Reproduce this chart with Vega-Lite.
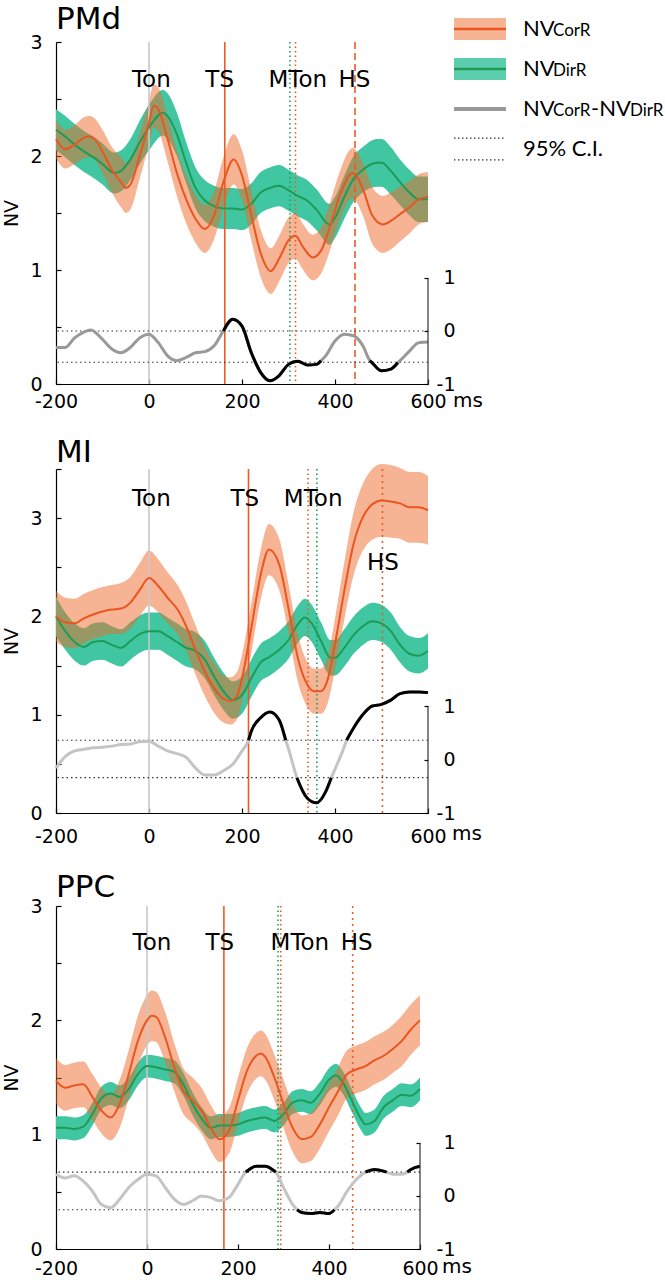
{
"$schema":"https://vega.github.io/schema/vega-lite/v6.json",
"background":"white",
"padding":{"left":2,"top":4,"right":0,"bottom":0},
"config":{"view":{"stroke":null},"font":"DejaVu Sans",
"axis":{"grid":false,"domainColor":"#000","tickColor":"#000","labelColor":"#000","titleColor":"#000","labelFontSize":19,"titleFontSize":19,"titleFontWeight":"normal","domainWidth":1.2,"tickWidth":1.2,"labelFont":"DejaVu Sans","titleFont":"DejaVu Sans"},
"text":{"font":"DejaVu Sans"},
"title":{"fontSize":31,"fontWeight":"normal","anchor":"start","frame":"group","color":"#000","font":"DejaVu Sans"}},
"datasets":{
"pmd_o":[{"t":-200,"m":2.15,"e":0.17},{"t":-180,"m":2.06,"e":0.17},{"t":-160,"m":2.1,"e":0.17},{"t":-140,"m":2.16,"e":0.18},{"t":-128,"m":2.17,"e":0.18},{"t":-120,"m":2.16,"e":0.18},{"t":-100,"m":2.04,"e":0.19},{"t":-80,"m":1.88,"e":0.2},{"t":-60,"m":1.77,"e":0.22},{"t":-50,"m":1.72,"e":0.22},{"t":-40,"m":1.75,"e":0.22},{"t":-20,"m":2.0,"e":0.2},{"t":0,"m":2.29,"e":0.19},{"t":10,"m":2.44,"e":0.19},{"t":20,"m":2.41,"e":0.19},{"t":40,"m":2.15,"e":0.2},{"t":60,"m":1.85,"e":0.2},{"t":80,"m":1.62,"e":0.21},{"t":100,"m":1.45,"e":0.21},{"t":120,"m":1.36,"e":0.21},{"t":140,"m":1.48,"e":0.21},{"t":160,"m":1.77,"e":0.22},{"t":182,"m":1.97,"e":0.22},{"t":200,"m":1.83,"e":0.22},{"t":220,"m":1.48,"e":0.22},{"t":240,"m":1.15,"e":0.21},{"t":262,"m":0.99,"e":0.2},{"t":280,"m":1.1,"e":0.2},{"t":300,"m":1.26,"e":0.2},{"t":315,"m":1.3,"e":0.2},{"t":330,"m":1.21,"e":0.2},{"t":352,"m":1.11,"e":0.2},{"t":370,"m":1.17,"e":0.2},{"t":390,"m":1.39,"e":0.21},{"t":410,"m":1.65,"e":0.21},{"t":438,"m":1.85,"e":0.22},{"t":460,"m":1.71,"e":0.23},{"t":480,"m":1.48,"e":0.25},{"t":503,"m":1.4,"e":0.25},{"t":520,"m":1.43,"e":0.25},{"t":540,"m":1.49,"e":0.24},{"t":560,"m":1.55,"e":0.23},{"t":580,"m":1.62,"e":0.22},{"t":600,"m":1.64,"e":0.22}],
"pmd_g":[{"t":-200,"m":2.23,"e":0.18},{"t":-180,"m":2.17,"e":0.18},{"t":-160,"m":2.1,"e":0.18},{"t":-140,"m":2.04,"e":0.18},{"t":-120,"m":1.99,"e":0.18},{"t":-100,"m":1.93,"e":0.18},{"t":-75,"m":1.85,"e":0.18},{"t":-60,"m":1.87,"e":0.18},{"t":-40,"m":1.97,"e":0.18},{"t":-20,"m":2.12,"e":0.19},{"t":0,"m":2.25,"e":0.2},{"t":30,"m":2.38,"e":0.2},{"t":40,"m":2.35,"e":0.2},{"t":60,"m":2.19,"e":0.19},{"t":80,"m":1.94,"e":0.18},{"t":100,"m":1.72,"e":0.18},{"t":120,"m":1.61,"e":0.18},{"t":140,"m":1.56,"e":0.18},{"t":160,"m":1.54,"e":0.18},{"t":180,"m":1.54,"e":0.18},{"t":200,"m":1.53,"e":0.18},{"t":220,"m":1.58,"e":0.18},{"t":240,"m":1.68,"e":0.18},{"t":260,"m":1.72,"e":0.18},{"t":280,"m":1.74,"e":0.18},{"t":300,"m":1.7,"e":0.18},{"t":320,"m":1.65,"e":0.18},{"t":340,"m":1.61,"e":0.18},{"t":360,"m":1.53,"e":0.18},{"t":388,"m":1.4,"e":0.18},{"t":400,"m":1.46,"e":0.18},{"t":420,"m":1.64,"e":0.19},{"t":440,"m":1.8,"e":0.2},{"t":460,"m":1.88,"e":0.2},{"t":490,"m":1.94,"e":0.21},{"t":500,"m":1.94,"e":0.21},{"t":520,"m":1.87,"e":0.21},{"t":540,"m":1.77,"e":0.2},{"t":560,"m":1.68,"e":0.2},{"t":580,"m":1.62,"e":0.2},{"t":600,"m":1.62,"e":0.2}],
"pmd_d":[{"t":-200,"d":-0.31},{"t":-180,"d":-0.31},{"t":-160,"d":-0.13},{"t":-140,"d":-0.02},{"t":-125,"d":0.02},{"t":-100,"d":-0.16},{"t":-80,"d":-0.34},{"t":-60,"d":-0.41},{"t":-40,"d":-0.31},{"t":-20,"d":-0.13},{"t":0,"d":-0.06},{"t":20,"d":-0.22},{"t":40,"d":-0.47},{"t":60,"d":-0.56},{"t":80,"d":-0.5},{"t":100,"d":-0.41},{"t":120,"d":-0.39},{"t":140,"d":-0.28},{"t":160,"d":0.0,"ds":0.0},{"t":180,"d":0.22,"ds":0.22},{"t":200,"d":0.09,"ds":0.09},{"t":220,"d":-0.41,"ds":-0.41},{"t":240,"d":-0.78,"ds":-0.78},{"t":260,"d":-0.94,"ds":-0.94},{"t":280,"d":-0.84,"ds":-0.84},{"t":300,"d":-0.63,"ds":-0.63},{"t":320,"d":-0.57,"ds":-0.57},{"t":340,"d":-0.64,"ds":-0.64},{"t":360,"d":-0.63,"ds":-0.63},{"t":370,"d":-0.56,"ds":-0.56},{"t":380,"d":-0.47},{"t":400,"d":-0.19},{"t":420,"d":-0.06},{"t":440,"d":-0.09},{"t":460,"d":-0.28},{"t":475,"d":-0.56,"ds":-0.56},{"t":480,"d":-0.6,"ds":-0.6},{"t":500,"d":-0.75,"ds":-0.75},{"t":520,"d":-0.72,"ds":-0.72},{"t":535,"d":-0.6,"ds":-0.6},{"t":540,"d":-0.56},{"t":560,"d":-0.38},{"t":580,"d":-0.22},{"t":600,"d":-0.21}],
"pmd_ev":[{"ev":"Ton","t":0},{"ev":"TS","t":163},{"ev":"MTonD","t":303},{"ev":"MTonC","t":315},{"ev":"HS","t":443}],
"pmd_lab":[{"label":"Ton","t":5,"v":2.67},{"label":"TS","t":152,"v":2.67},{"label":"MTon","t":320,"v":2.67},{"label":"HS","t":442,"v":2.67}],
"pmd_ci":[{"lim":"upper","v":0.0},{"lim":"lower","v":-0.59}],
"mi_o":[{"t":-200,"m":2.0,"e":0.26},{"t":-180,"m":1.94,"e":0.25},{"t":-160,"m":1.93,"e":0.25},{"t":-140,"m":1.98,"e":0.25},{"t":-120,"m":2.02,"e":0.25},{"t":-100,"m":2.05,"e":0.25},{"t":-80,"m":2.07,"e":0.25},{"t":-60,"m":2.08,"e":0.26},{"t":-40,"m":2.14,"e":0.26},{"t":-20,"m":2.27,"e":0.27},{"t":0,"m":2.39,"e":0.28},{"t":20,"m":2.31,"e":0.27},{"t":40,"m":2.19,"e":0.26},{"t":60,"m":2.08,"e":0.25},{"t":80,"m":1.9,"e":0.25},{"t":100,"m":1.66,"e":0.25},{"t":120,"m":1.44,"e":0.25},{"t":140,"m":1.27,"e":0.25},{"t":160,"m":1.16,"e":0.24},{"t":175,"m":1.14,"e":0.24},{"t":190,"m":1.2,"e":0.24},{"t":200,"m":1.37,"e":0.24},{"t":220,"m":1.88,"e":0.25},{"t":240,"m":2.42,"e":0.25},{"t":258,"m":2.68,"e":0.26},{"t":280,"m":2.53,"e":0.26},{"t":300,"m":2.08,"e":0.25},{"t":320,"m":1.58,"e":0.24},{"t":340,"m":1.31,"e":0.23},{"t":355,"m":1.24,"e":0.23},{"t":370,"m":1.24,"e":0.23},{"t":385,"m":1.37,"e":0.24},{"t":400,"m":1.72,"e":0.26},{"t":420,"m":2.26,"e":0.29},{"t":440,"m":2.74,"e":0.32},{"t":460,"m":3.01,"e":0.34},{"t":480,"m":3.14,"e":0.36},{"t":500,"m":3.18,"e":0.37},{"t":520,"m":3.17,"e":0.37},{"t":540,"m":3.15,"e":0.36},{"t":560,"m":3.11,"e":0.36},{"t":580,"m":3.11,"e":0.36},{"t":600,"m":3.08,"e":0.35}],
"mi_g":[{"t":-200,"m":2.0,"e":0.2},{"t":-180,"m":1.85,"e":0.19},{"t":-160,"m":1.74,"e":0.19},{"t":-140,"m":1.69,"e":0.19},{"t":-120,"m":1.74,"e":0.19},{"t":-100,"m":1.75,"e":0.19},{"t":-80,"m":1.71,"e":0.19},{"t":-60,"m":1.68,"e":0.19},{"t":-40,"m":1.75,"e":0.19},{"t":-20,"m":1.82,"e":0.19},{"t":0,"m":1.85,"e":0.19},{"t":20,"m":1.85,"e":0.19},{"t":40,"m":1.8,"e":0.19},{"t":60,"m":1.74,"e":0.19},{"t":80,"m":1.68,"e":0.19},{"t":100,"m":1.65,"e":0.19},{"t":120,"m":1.56,"e":0.19},{"t":140,"m":1.39,"e":0.19},{"t":160,"m":1.24,"e":0.19},{"t":180,"m":1.15,"e":0.19},{"t":200,"m":1.2,"e":0.19},{"t":220,"m":1.37,"e":0.19},{"t":240,"m":1.53,"e":0.19},{"t":260,"m":1.59,"e":0.19},{"t":280,"m":1.66,"e":0.19},{"t":300,"m":1.76,"e":0.19},{"t":320,"m":1.92,"e":0.19},{"t":335,"m":1.99,"e":0.19},{"t":350,"m":1.93,"e":0.19},{"t":370,"m":1.75,"e":0.19},{"t":390,"m":1.58,"e":0.18},{"t":400,"m":1.58,"e":0.18},{"t":420,"m":1.68,"e":0.19},{"t":440,"m":1.81,"e":0.19},{"t":460,"m":1.9,"e":0.19},{"t":480,"m":1.95,"e":0.19},{"t":500,"m":1.93,"e":0.19},{"t":520,"m":1.85,"e":0.19},{"t":540,"m":1.71,"e":0.18},{"t":560,"m":1.62,"e":0.18},{"t":580,"m":1.6,"e":0.18},{"t":600,"m":1.65,"e":0.18}],
"mi_d":[{"t":-200,"d":-0.16},{"t":-180,"d":0.06},{"t":-160,"d":0.16},{"t":-140,"d":0.19},{"t":-120,"d":0.22},{"t":-100,"d":0.23},{"t":-80,"d":0.25},{"t":-60,"d":0.28},{"t":-40,"d":0.29},{"t":-20,"d":0.33},{"t":0,"d":0.34},{"t":20,"d":0.25},{"t":40,"d":0.16},{"t":60,"d":0.11},{"t":80,"d":0.04},{"t":100,"d":-0.16},{"t":120,"d":-0.29},{"t":140,"d":-0.29},{"t":160,"d":-0.21},{"t":180,"d":-0.09},{"t":200,"d":0.16},{"t":214,"d":0.36,"ds":0.36},{"t":220,"d":0.53,"ds":0.53},{"t":240,"d":0.78,"ds":0.78},{"t":260,"d":0.89,"ds":0.89},{"t":280,"d":0.74,"ds":0.74},{"t":294,"d":0.36,"ds":0.36},{"t":300,"d":0.2},{"t":318,"d":-0.34,"ds":-0.34},{"t":340,"d":-0.72,"ds":-0.72},{"t":360,"d":-0.81,"ds":-0.81},{"t":380,"d":-0.6,"ds":-0.6},{"t":392,"d":-0.34,"ds":-0.34},{"t":400,"d":-0.18},{"t":420,"d":0.24},{"t":425,"d":0.36,"ds":0.36},{"t":440,"d":0.59,"ds":0.59},{"t":460,"d":0.84,"ds":0.84},{"t":480,"d":1.0,"ds":1.0},{"t":500,"d":1.03,"ds":1.03},{"t":520,"d":1.11,"ds":1.11},{"t":540,"d":1.23,"ds":1.23},{"t":560,"d":1.26,"ds":1.26},{"t":580,"d":1.26,"ds":1.26},{"t":600,"d":1.25,"ds":1.25}],
"mi_ev":[{"ev":"Ton","t":0},{"ev":"TS","t":214},{"ev":"MTonC","t":342},{"ev":"MTonD","t":361},{"ev":"HS","t":502}],
"mi_lab":[{"label":"Ton","t":5,"v":3.19},{"label":"TS","t":206,"v":3.19},{"label":"MTon","t":353,"v":3.19},{"label":"HS","t":503,"v":2.54}],
"mi_ci":[{"lim":"upper","v":0.36},{"lim":"lower","v":-0.34}],
"ppc_o":[{"t":-200,"m":1.47,"e":0.2},{"t":-180,"m":1.41,"e":0.2},{"t":-160,"m":1.43,"e":0.2},{"t":-140,"m":1.44,"e":0.2},{"t":-120,"m":1.33,"e":0.2},{"t":-100,"m":1.21,"e":0.2},{"t":-80,"m":1.15,"e":0.2},{"t":-60,"m":1.27,"e":0.21},{"t":-40,"m":1.53,"e":0.21},{"t":-20,"m":1.82,"e":0.22},{"t":0,"m":2.0,"e":0.22},{"t":10,"m":2.04,"e":0.22},{"t":20,"m":2.03,"e":0.22},{"t":40,"m":1.85,"e":0.22},{"t":60,"m":1.59,"e":0.21},{"t":80,"m":1.38,"e":0.2},{"t":100,"m":1.3,"e":0.2},{"t":120,"m":1.21,"e":0.2},{"t":140,"m":1.06,"e":0.2},{"t":160,"m":0.96,"e":0.2},{"t":180,"m":1.03,"e":0.2},{"t":200,"m":1.3,"e":0.2},{"t":220,"m":1.56,"e":0.2},{"t":240,"m":1.69,"e":0.2},{"t":250,"m":1.71,"e":0.2},{"t":260,"m":1.68,"e":0.2},{"t":280,"m":1.5,"e":0.2},{"t":300,"m":1.27,"e":0.21},{"t":320,"m":1.06,"e":0.21},{"t":340,"m":0.96,"e":0.21},{"t":360,"m":0.98,"e":0.21},{"t":380,"m":1.09,"e":0.21},{"t":400,"m":1.24,"e":0.21},{"t":420,"m":1.38,"e":0.21},{"t":440,"m":1.53,"e":0.21},{"t":460,"m":1.57,"e":0.21},{"t":480,"m":1.6,"e":0.21},{"t":500,"m":1.65,"e":0.21},{"t":520,"m":1.69,"e":0.21},{"t":540,"m":1.75,"e":0.21},{"t":560,"m":1.82,"e":0.22},{"t":580,"m":1.92,"e":0.22},{"t":600,"m":2.0,"e":0.22}],
"ppc_g":[{"t":-200,"m":1.06,"e":0.1},{"t":-180,"m":1.06,"e":0.1},{"t":-160,"m":1.05,"e":0.1},{"t":-140,"m":1.07,"e":0.1},{"t":-120,"m":1.18,"e":0.1},{"t":-100,"m":1.32,"e":0.1},{"t":-80,"m":1.36,"e":0.1},{"t":-60,"m":1.33,"e":0.1},{"t":-40,"m":1.4,"e":0.1},{"t":-20,"m":1.53,"e":0.1},{"t":0,"m":1.6,"e":0.1},{"t":20,"m":1.59,"e":0.1},{"t":40,"m":1.57,"e":0.1},{"t":60,"m":1.55,"e":0.1},{"t":80,"m":1.44,"e":0.1},{"t":100,"m":1.27,"e":0.1},{"t":120,"m":1.14,"e":0.1},{"t":140,"m":1.06,"e":0.1},{"t":160,"m":1.08,"e":0.1},{"t":180,"m":1.08,"e":0.1},{"t":200,"m":1.09,"e":0.1},{"t":220,"m":1.12,"e":0.1},{"t":240,"m":1.14,"e":0.1},{"t":260,"m":1.15,"e":0.1},{"t":280,"m":1.12,"e":0.1},{"t":300,"m":1.18,"e":0.1},{"t":320,"m":1.28,"e":0.1},{"t":340,"m":1.3,"e":0.1},{"t":360,"m":1.28,"e":0.1},{"t":380,"m":1.36,"e":0.1},{"t":400,"m":1.48,"e":0.1},{"t":415,"m":1.52,"e":0.1},{"t":430,"m":1.46,"e":0.1},{"t":450,"m":1.3,"e":0.1},{"t":470,"m":1.14,"e":0.1},{"t":480,"m":1.09,"e":0.1},{"t":500,"m":1.12,"e":0.1},{"t":520,"m":1.24,"e":0.1},{"t":540,"m":1.3,"e":0.1},{"t":560,"m":1.35,"e":0.1},{"t":580,"m":1.34,"e":0.1},{"t":600,"m":1.4,"e":0.1}],
"ppc_d":[{"t":-200,"d":0.41},{"t":-180,"d":0.34},{"t":-160,"d":0.38},{"t":-140,"d":0.28},{"t":-120,"d":0.09},{"t":-100,"d":-0.16},{"t":-80,"d":-0.22},{"t":-60,"d":-0.06},{"t":-40,"d":0.16},{"t":-20,"d":0.31},{"t":0,"d":0.41},{"t":20,"d":0.38},{"t":40,"d":0.16},{"t":60,"d":-0.06},{"t":80,"d":-0.16},{"t":100,"d":-0.09},{"t":120,"d":0.0},{"t":140,"d":-0.03},{"t":160,"d":-0.09},{"t":180,"d":-0.03},{"t":200,"d":0.22},{"t":217,"d":0.45,"ds":0.45},{"t":220,"d":0.47,"ds":0.47},{"t":240,"d":0.56,"ds":0.56},{"t":260,"d":0.56,"ds":0.56},{"t":280,"d":0.47,"ds":0.47},{"t":283,"d":0.45,"ds":0.45},{"t":300,"d":0.16},{"t":320,"d":-0.16},{"t":330,"d":-0.26,"ds":-0.26},{"t":340,"d":-0.31,"ds":-0.31},{"t":360,"d":-0.33,"ds":-0.33},{"t":380,"d":-0.31,"ds":-0.31},{"t":400,"d":-0.33,"ds":-0.33},{"t":412,"d":-0.26,"ds":-0.26},{"t":420,"d":-0.19},{"t":440,"d":0.09},{"t":460,"d":0.31},{"t":480,"d":0.45,"ds":0.45},{"t":500,"d":0.5,"ds":0.5},{"t":520,"d":0.47,"ds":0.47},{"t":527,"d":0.45,"ds":0.45},{"t":540,"d":0.41},{"t":560,"d":0.41},{"t":572,"d":0.45,"ds":0.45},{"t":580,"d":0.5,"ds":0.5},{"t":600,"d":0.56,"ds":0.56}],
"ppc_ev":[{"ev":"Ton","t":0},{"ev":"TS","t":169},{"ev":"MTonD","t":288},{"ev":"MTonC","t":294},{"ev":"HS","t":452}],
"ppc_lab":[{"label":"Ton","t":11,"v":2.68},{"label":"TS","t":160,"v":2.68},{"label":"MTon","t":336,"v":2.68},{"label":"HS","t":461,"v":2.68}],
"ppc_ci":[{"lim":"upper","v":0.45},{"lim":"lower","v":-0.26}],
"leg":[{"item":1,"key":"CorR","nv":"NV","sub":"CorR"},{"item":2,"key":"DirR","nv":"NV","sub":"DirR"},{"item":3,"key":"Diff","nv":"NV","sub":"CorR","nv2":"-NV","sub2":"DirR"},{"item":4,"key":"CI","nv":"95% C.I."}],
"unit":[{"u":"ms"}]
},
"vconcat":[
{"hconcat":[
{"title":{"text":"PMd","baseline":"alphabetic","offset":-27},
"width":372,"height":342,
"layer":[
{"layer":[
{"data":{"name":"pmd_g"},"mark":{"type":"errorband","interpolate":"monotone","color":"#40c6a0","band":{"opacity":1}},
"encoding":{"x":{"field":"t","type":"quantitative","title":null,"scale":{"domain":[-200,600],"nice":false,"zero":false},"axis":{"values":[-200,0,200,400,600],"labelExpr":"datum.value < 0 ? '-' + format(-datum.value, 'd') : format(datum.value, 'd')","title":null,"tickSize":-5,"labelPadding":13,"labelFlush":false}},
"y":{"field":"m","type":"quantitative","title":"NV","scale":{"domain":[0,3],"nice":false},"axis":{"values":[0,0.5,1,1.5,2,2.5,3],"labelExpr":"datum.value % 1 === 0 ? format(datum.value, 'd') : ''","title":"NV","titlePadding":8,"tickSize":-5,"labelPadding":19,"labelFlush":false,"labelOverlap":false}},
"yError":{"field":"e"}}},
{"data":{"name":"pmd_o"},"mark":{"type":"errorband","interpolate":"monotone","color":"#f06a2a","band":{"opacity":0.5}},
"encoding":{"x":{"field":"t","type":"quantitative","title":null},"y":{"field":"m","type":"quantitative","title":"NV"},"yError":{"field":"e"}}},
{"data":{"name":"pmd_ev"},"mark":{"type":"rule","strokeWidth":1.6},
"encoding":{"x":{"field":"t","type":"quantitative","title":null},
"color":{"field":"ev","type":"nominal","scale":{"domain":["Ton","TS","MTonD","MTonC","HS"],"range":["#c8c8c8","#ee5a24","#1f9e5a","#ee5a24","#ee5a24"]},"legend":null},
"strokeDash":{"field":"ev","type":"nominal","scale":{"domain":["Ton","TS","MTonD","MTonC","HS"],"range":[[1,0],[1,0],[1.5,3],[1.5,3],[7,4]]},"legend":null}}},
{"data":{"name":"pmd_g"},"mark":{"type":"line","interpolate":"monotone","color":"#1e9b55","strokeWidth":2},
"encoding":{"x":{"field":"t","type":"quantitative","title":null},"y":{"field":"m","type":"quantitative","title":"NV"}}},
{"data":{"name":"pmd_o"},"mark":{"type":"line","interpolate":"monotone","color":"#ea5520","strokeWidth":2},
"encoding":{"x":{"field":"t","type":"quantitative","title":null},"y":{"field":"m","type":"quantitative","title":"NV"}}},
{"data":{"name":"pmd_lab"},"mark":{"type":"text","fontSize":23,"color":"#000","baseline":"middle"},
"encoding":{"x":{"field":"t","type":"quantitative","title":null},"y":{"field":"v","type":"quantitative","title":"NV"},"text":{"field":"label"}}},
{"data":{"name":"unit"},"mark":{"type":"text","fontSize":20,"color":"#000","align":"left","baseline":"middle","dx":25,"dy":17},
"encoding":{"x":{"datum":600,"type":"quantitative","title":null},"y":{"datum":0,"type":"quantitative","title":"NV"},"text":{"field":"u"}}}
]},
{"layer":[
{"data":{"name":"pmd_ci"},"mark":{"type":"rule","strokeDash":[1.5,3],"color":"#333","strokeWidth":1.2},
"encoding":{"y":{"field":"v","type":"quantitative","scale":{"domain":[-1,5.45],"nice":false,"zero":false},"axis":{"orient":"right","values":[-1,0,1],"labelExpr":"datum.value < 0 ? '-' + format(-datum.value, 'd') : format(datum.value, 'd')","domain":false,"title":null,"tickSize":-4,"labelPadding":31,"labelAlign":"right","labelFlush":false}}}},
{"data":{"name":"pmd_d"},"mark":{"type":"line","interpolate":"monotone","color":"#999999","strokeWidth":3},
"encoding":{"x":{"field":"t","type":"quantitative","title":null},"y":{"field":"d","type":"quantitative"}}},
{"data":{"name":"pmd_d"},"mark":{"type":"line","interpolate":"monotone","color":"#000","strokeWidth":3,"invalid":"break-paths-filter-domains"},
"encoding":{"x":{"field":"t","type":"quantitative","title":null},"y":{"field":"ds","type":"quantitative"}}},
{"data":{"name":"unit"},"mark":{"type":"rule","color":"#333","strokeWidth":1.2},
"encoding":{"x":{"datum":600,"type":"quantitative","title":null},"y":{"datum":-1,"type":"quantitative"},"y2":{"datum":1}}}
]}
],
"resolve":{"scale":{"y":"independent"},"axis":{"y":"independent"}}},
{"width":200,"height":150,
"data":{"name":"leg"},
"encoding":{"y":{"field":"item","type":"quantitative","scale":{"domain":[1.325,5.075],"reverse":true,"nice":false,"zero":false},"axis":null}},
"layer":[
{"transform":[{"filter":"datum.key == 'CorR'"}],"mark":{"type":"point","shape":"M-1,-0.42L1,-0.42L1,0.42L-1,0.42Z","size":2704,"filled":true,"color":"#f06a2a","opacity":0.5,"strokeWidth":0},
"encoding":{"x":{"datum":26,"type":"quantitative","scale":{"domain":[0,200],"nice":false,"zero":false},"axis":null}}},
{"transform":[{"filter":"datum.key == 'CorR'"}],"mark":{"type":"point","shape":"M-1,0L1,0","size":2704,"filled":false,"color":"#ea5520","opacity":1,"strokeWidth":2.5},
"encoding":{"x":{"datum":26,"type":"quantitative","scale":{"domain":[0,200],"nice":false,"zero":false},"axis":null}}},
{"transform":[{"filter":"datum.key == 'DirR'"}],"mark":{"type":"point","shape":"M-1,-0.42L1,-0.42L1,0.42L-1,0.42Z","size":2704,"filled":true,"color":"#40c6a0","opacity":0.85,"strokeWidth":0},
"encoding":{"x":{"datum":26,"type":"quantitative","scale":{"domain":[0,200],"nice":false,"zero":false},"axis":null}}},
{"transform":[{"filter":"datum.key == 'DirR'"}],"mark":{"type":"point","shape":"M-1,0L1,0","size":2704,"filled":false,"color":"#1e9b55","opacity":1,"strokeWidth":2.5},
"encoding":{"x":{"datum":26,"type":"quantitative","scale":{"domain":[0,200],"nice":false,"zero":false},"axis":null}}},
{"transform":[{"filter":"datum.key == 'Diff'"}],"mark":{"type":"point","shape":"M-1,0L1,0","size":2704,"filled":false,"color":"#999999","opacity":1,"strokeWidth":4},
"encoding":{"x":{"datum":26,"type":"quantitative","scale":{"domain":[0,200],"nice":false,"zero":false},"axis":null}}},
{"transform":[{"filter":"datum.key == 'CI'"}],"mark":{"type":"point","shape":"M-1,-0.42L1,-0.42M-1,0.42L1,0.42","size":2704,"filled":false,"color":"#333","opacity":1,"strokeWidth":1.2,"strokeDash":[1.5,2.5]},
"encoding":{"x":{"datum":26,"type":"quantitative","scale":{"domain":[0,200],"nice":false,"zero":false},"axis":null}}},
{"mark":{"type":"text","font":"Lato","fontSize":22,"align":"left","baseline":"alphabetic","dy":7,"color":"#000"},
"encoding":{"x":{"datum":69,"type":"quantitative","scale":{"domain":[0,200],"nice":false,"zero":false},"axis":null},"text":{"field":"nv"}}},
{"transform":[{"filter":"isValid(datum.sub)"}],"mark":{"type":"text","font":"Lato","fontSize":17,"align":"left","baseline":"alphabetic","dy":7,"dx":30,"color":"#000"},
"encoding":{"x":{"datum":69,"type":"quantitative","scale":{"domain":[0,200],"nice":false,"zero":false},"axis":null},"text":{"field":"sub"}}},
{"transform":[{"filter":"isValid(datum.nv2)"}],"mark":{"type":"text","font":"Lato","fontSize":22,"align":"left","baseline":"alphabetic","dy":7,"dx":68,"color":"#000"},
"encoding":{"x":{"datum":69,"type":"quantitative","scale":{"domain":[0,200],"nice":false,"zero":false},"axis":null},"text":{"field":"nv2"}}},
{"transform":[{"filter":"isValid(datum.sub2)"}],"mark":{"type":"text","font":"Lato","fontSize":17,"align":"left","baseline":"alphabetic","dy":7,"dx":107,"color":"#000"},
"encoding":{"x":{"datum":69,"type":"quantitative","scale":{"domain":[0,200],"nice":false,"zero":false},"axis":null},"text":{"field":"sub2"}}}
]}
],"bounds":"flush","spacing":26},
{"title":{"text":"MI","baseline":"alphabetic","offset":-33},
"width":372,"height":344,
"layer":[
{"layer":[
{"data":{"name":"mi_g"},"mark":{"type":"errorband","interpolate":"monotone","color":"#40c6a0","band":{"opacity":1}},
"encoding":{"x":{"field":"t","type":"quantitative","title":null,"scale":{"domain":[-200,600],"nice":false,"zero":false},"axis":{"values":[-200,0,200,400,600],"labelExpr":"datum.value < 0 ? '-' + format(-datum.value, 'd') : format(datum.value, 'd')","title":null,"tickSize":-5,"labelPadding":19,"labelFlush":false}},
"y":{"field":"m","type":"quantitative","title":"NV","scale":{"domain":[0,3.5],"nice":false},"axis":{"values":[0,0.5,1,1.5,2,2.5,3,3.5],"labelExpr":"datum.value % 1 === 0 ? format(datum.value, 'd') : ''","title":"NV","titlePadding":8,"tickSize":-5,"labelPadding":19,"labelFlush":false,"labelOverlap":false}},
"yError":{"field":"e"}}},
{"data":{"name":"mi_o"},"mark":{"type":"errorband","interpolate":"monotone","color":"#f06a2a","band":{"opacity":0.5}},
"encoding":{"x":{"field":"t","type":"quantitative","title":null},"y":{"field":"m","type":"quantitative","title":"NV"},"yError":{"field":"e"}}},
{"data":{"name":"mi_ev"},"mark":{"type":"rule","strokeWidth":1.6},
"encoding":{"x":{"field":"t","type":"quantitative","title":null},
"color":{"field":"ev","type":"nominal","scale":{"domain":["Ton","TS","MTonD","MTonC","HS"],"range":["#c8c8c8","#ee5a24","#1f9e5a","#ee5a24","#ee5a24"]},"legend":null},
"strokeDash":{"field":"ev","type":"nominal","scale":{"domain":["Ton","TS","MTonD","MTonC","HS"],"range":[[1,0],[1,0],[1.5,3],[1.5,3],[2,4]]},"legend":null}}},
{"data":{"name":"mi_g"},"mark":{"type":"line","interpolate":"monotone","color":"#1e9b55","strokeWidth":2},
"encoding":{"x":{"field":"t","type":"quantitative","title":null},"y":{"field":"m","type":"quantitative","title":"NV"}}},
{"data":{"name":"mi_o"},"mark":{"type":"line","interpolate":"monotone","color":"#ea5520","strokeWidth":2},
"encoding":{"x":{"field":"t","type":"quantitative","title":null},"y":{"field":"m","type":"quantitative","title":"NV"}}},
{"data":{"name":"mi_lab"},"mark":{"type":"text","fontSize":23,"color":"#000","baseline":"middle"},
"encoding":{"x":{"field":"t","type":"quantitative","title":null},"y":{"field":"v","type":"quantitative","title":"NV"},"text":{"field":"label"}}},
{"data":{"name":"unit"},"mark":{"type":"text","fontSize":20,"color":"#000","align":"left","baseline":"middle","dx":24,"dy":21},
"encoding":{"x":{"datum":600,"type":"quantitative","title":null},"y":{"datum":0,"type":"quantitative","title":"NV"},"text":{"field":"u"}}}
]},
{"layer":[
{"data":{"name":"mi_ci"},"mark":{"type":"rule","strokeDash":[1.5,3],"color":"#333","strokeWidth":1.2},
"encoding":{"y":{"field":"v","type":"quantitative","scale":{"domain":[-1,5.43],"nice":false,"zero":false},"axis":{"orient":"right","values":[-1,0,1],"labelExpr":"datum.value < 0 ? '-' + format(-datum.value, 'd') : format(datum.value, 'd')","domain":false,"title":null,"tickSize":-4,"labelPadding":31,"labelAlign":"right","labelFlush":false}}}},
{"data":{"name":"mi_d"},"mark":{"type":"line","interpolate":"monotone","color":"#c4c4c4","strokeWidth":3},
"encoding":{"x":{"field":"t","type":"quantitative","title":null},"y":{"field":"d","type":"quantitative"}}},
{"data":{"name":"mi_d"},"mark":{"type":"line","interpolate":"monotone","color":"#000","strokeWidth":3,"invalid":"break-paths-filter-domains"},
"encoding":{"x":{"field":"t","type":"quantitative","title":null},"y":{"field":"ds","type":"quantitative"}}},
{"data":{"name":"unit"},"mark":{"type":"rule","color":"#333","strokeWidth":1.2},
"encoding":{"x":{"datum":600,"type":"quantitative","title":null},"y":{"datum":-1,"type":"quantitative"},"y2":{"datum":1}}}
]}
],
"resolve":{"scale":{"y":"independent"},"axis":{"y":"independent"}}},
{"title":{"text":"PPC","baseline":"alphabetic","offset":-31},
"width":364,"height":343,
"layer":[
{"layer":[
{"data":{"name":"ppc_g"},"mark":{"type":"errorband","interpolate":"monotone","color":"#40c6a0","band":{"opacity":1}},
"encoding":{"x":{"field":"t","type":"quantitative","title":null,"scale":{"domain":[-200,600],"nice":false,"zero":false},"axis":{"values":[-200,0,200,400,600],"labelExpr":"datum.value < 0 ? '-' + format(-datum.value, 'd') : format(datum.value, 'd')","title":null,"tickSize":-5,"labelPadding":15,"labelFlush":false}},
"y":{"field":"m","type":"quantitative","title":"NV","scale":{"domain":[0,3],"nice":false},"axis":{"values":[0,0.5,1,1.5,2,2.5,3],"labelExpr":"datum.value % 1 === 0 ? format(datum.value, 'd') : ''","title":"NV","titlePadding":8,"tickSize":-5,"labelPadding":19,"labelFlush":false,"labelOverlap":false}},
"yError":{"field":"e"}}},
{"data":{"name":"ppc_o"},"mark":{"type":"errorband","interpolate":"monotone","color":"#f06a2a","band":{"opacity":0.5}},
"encoding":{"x":{"field":"t","type":"quantitative","title":null},"y":{"field":"m","type":"quantitative","title":"NV"},"yError":{"field":"e"}}},
{"data":{"name":"ppc_ev"},"mark":{"type":"rule","strokeWidth":1.6},
"encoding":{"x":{"field":"t","type":"quantitative","title":null},
"color":{"field":"ev","type":"nominal","scale":{"domain":["Ton","TS","MTonD","MTonC","HS"],"range":["#c8c8c8","#ee5a24","#1f9e5a","#ee5a24","#ee5a24"]},"legend":null},
"strokeDash":{"field":"ev","type":"nominal","scale":{"domain":["Ton","TS","MTonD","MTonC","HS"],"range":[[1,0],[1,0],[1.5,3],[1.5,3],[2,4]]},"legend":null}}},
{"data":{"name":"ppc_g"},"mark":{"type":"line","interpolate":"monotone","color":"#1e9b55","strokeWidth":2},
"encoding":{"x":{"field":"t","type":"quantitative","title":null},"y":{"field":"m","type":"quantitative","title":"NV"}}},
{"data":{"name":"ppc_o"},"mark":{"type":"line","interpolate":"monotone","color":"#ea5520","strokeWidth":2},
"encoding":{"x":{"field":"t","type":"quantitative","title":null},"y":{"field":"m","type":"quantitative","title":"NV"}}},
{"data":{"name":"ppc_lab"},"mark":{"type":"text","fontSize":23,"color":"#000","baseline":"middle"},
"encoding":{"x":{"field":"t","type":"quantitative","title":null},"y":{"field":"v","type":"quantitative","title":"NV"},"text":{"field":"label"}}},
{"data":{"name":"unit"},"mark":{"type":"text","fontSize":20,"color":"#000","align":"left","baseline":"middle","dx":22,"dy":18},
"encoding":{"x":{"datum":600,"type":"quantitative","title":null},"y":{"datum":0,"type":"quantitative","title":"NV"},"text":{"field":"u"}}}
]},
{"layer":[
{"data":{"name":"ppc_ci"},"mark":{"type":"rule","strokeDash":[1.5,3],"color":"#333","strokeWidth":1.2},
"encoding":{"y":{"field":"v","type":"quantitative","scale":{"domain":[-1,5.47],"nice":false,"zero":false},"axis":{"orient":"right","values":[-1,0,1],"labelExpr":"datum.value < 0 ? '-' + format(-datum.value, 'd') : format(datum.value, 'd')","domain":false,"title":null,"tickSize":-4,"labelPadding":39,"labelAlign":"right","labelFlush":false}}}},
{"data":{"name":"ppc_d"},"mark":{"type":"line","interpolate":"monotone","color":"#c4c4c4","strokeWidth":3},
"encoding":{"x":{"field":"t","type":"quantitative","title":null},"y":{"field":"d","type":"quantitative"}}},
{"data":{"name":"ppc_d"},"mark":{"type":"line","interpolate":"monotone","color":"#000","strokeWidth":3,"invalid":"break-paths-filter-domains"},
"encoding":{"x":{"field":"t","type":"quantitative","title":null},"y":{"field":"ds","type":"quantitative"}}},
{"data":{"name":"unit"},"mark":{"type":"rule","color":"#333","strokeWidth":1.2},
"encoding":{"x":{"datum":600,"type":"quantitative","title":null},"y":{"datum":-1,"type":"quantitative"},"y2":{"datum":1}}}
]}
],
"resolve":{"scale":{"y":"independent"},"axis":{"y":"independent"}}}
],
"spacing":26,
"resolve":{"scale":{"color":"independent","strokeDash":"independent"}}
}
